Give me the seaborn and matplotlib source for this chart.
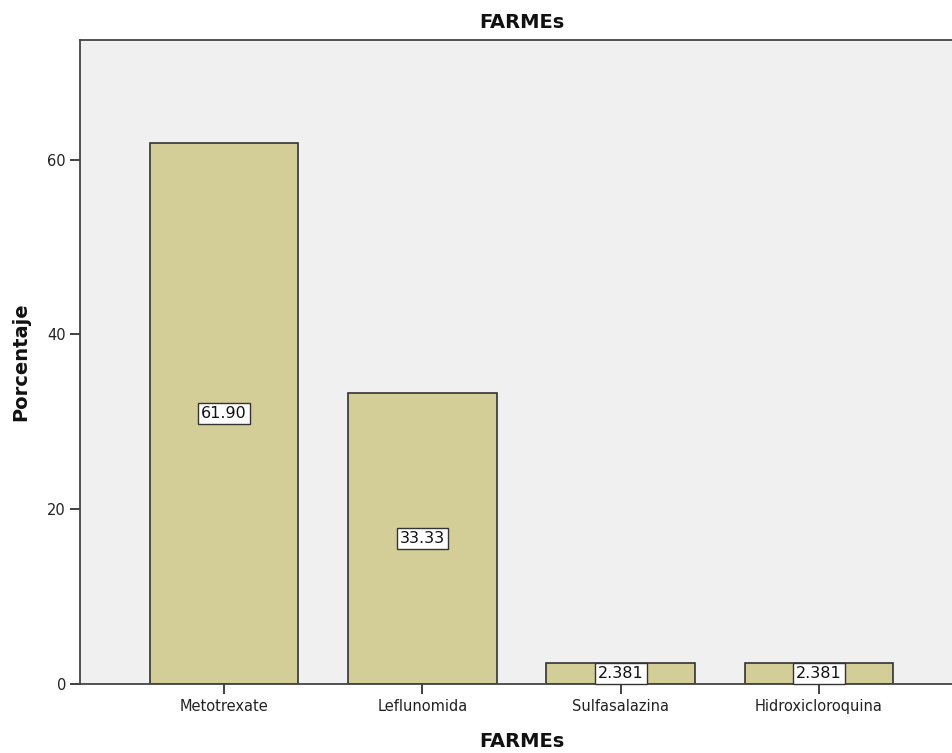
import matplotlib
matplotlib.use("Agg")
import matplotlib.pyplot as plt
import seaborn as sns
import pandas as pd

categories = ["Metotrexate", "Leflunomida", "Sulfasalazina", "Hidroxicloroquina"]
values = [61.90, 33.33, 2.381, 2.381]
labels = ["61.90", "33.33", "2.381", "2.381"]
yticks = [0, 20, 40, 60]

sns.set_style("white")
plt.rcParams['font.family'] = ['DejaVu Sans']

fig = plt.figure(figsize=(9.53, 7.53), dpi=100)
ax = fig.add_axes([80/953, 1-684/753, (963-80)/953, (684-40)/753])
ax.set_facecolor("#F0F0F0")

df = pd.DataFrame({"FARMEs": categories, "Porcentaje": values})
sns.barplot(data=df, x="FARMEs", y="Porcentaje", color="#D3CE97", saturation=1,
            edgecolor="#333333", linewidth=1.2, width=0.75, ax=ax)

ax.set_xlim(-0.727, 3.727)
ax.set_ylim(0, 73.7)
ax.set_yticks(yticks)
ax.set_yticklabels([str(t) for t in yticks], fontsize=10.5, color="#222222")
ax.set_xticks(range(len(categories)))
ax.set_xticklabels(categories, fontsize=10.5, color="#222222")
ax.tick_params(axis="both", which="major", bottom=True, left=True, direction="out",
               length=7, width=1.3, color="#333333", pad=3)
ax.tick_params(axis="x", pad=4)

for sp in ["top", "left", "bottom", "right"]:
    ax.spines[sp].set_color("#444444")
    ax.spines[sp].set_linewidth(1.3)

for i, (v, lab) in enumerate(zip(values, labels)):
    ax.text(i, v / 2, lab, ha="center", va="center", fontsize=11.5, color="#111111",
            bbox=dict(boxstyle="square,pad=0.2", facecolor="white", edgecolor="#333333", linewidth=1.0))

ax.set_title("FARMEs", fontsize=14, fontweight="bold", pad=9, color="#111111")
ax.set_xlabel("FARMEs", fontsize=14, fontweight="bold", labelpad=13, color="#111111")
ax.set_ylabel("Porcentaje", fontsize=14, fontweight="bold", labelpad=12, color="#111111")

fig.savefig("out.png", dpi=100)
